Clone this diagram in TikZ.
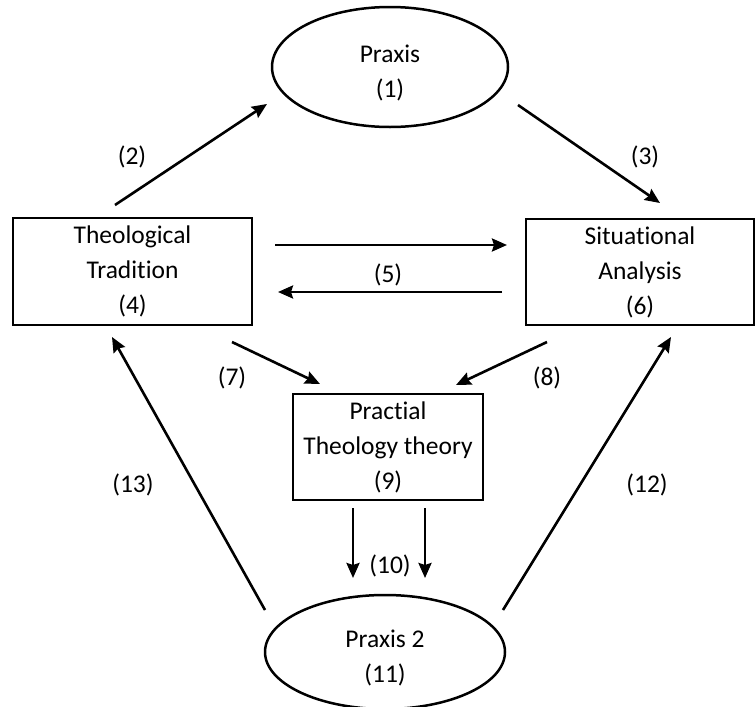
\documentclass[tikz,border=0pt]{standalone}
\usepackage{fontspec}
\setmainfont{Carlito}[Ligatures={NoCommon}]
\usetikzlibrary{arrows.meta,shapes.geometric}
\newcommand{\toppad}{\rule{0pt}{29pt}}
\begin{document}
\begin{tikzpicture}[x=1pt,y=-1pt,
  every node/.style={font=\fontsize{25.5}{35}\selectfont, align=center, text=black},
  stagebox/.style={draw, rectangle, line width=2.8pt, inner sep=0pt},
  cyclenode/.style={draw, ellipse, line width=2.5pt, inner sep=0pt},
  flow/.style={line width=2.6pt, -{Stealth[length=15pt,width=13pt,inset=2pt]}},
  num/.style={inner sep=0pt}]
\useasboundingbox (0,0) rectangle (756,707);

% stages of the cycle
\node[cyclenode, minimum width=236pt, minimum height=120pt] (praxis) at (390,67) {\toppad Praxis\\(1)};
\node[stagebox, minimum width=239pt, minimum height=107pt] (trad) at (132.5,271.5) {Theological\\Tradition\\(4)};
\node[stagebox, minimum width=228pt, minimum height=106pt] (sit) at (640,272) {Situational\\Analysis\\(6)};
\node[stagebox, minimum width=190pt, minimum height=106pt] (ptt) at (388,447) {Practial\\Theology theory\\(9)};
\node[cyclenode, minimum width=240pt, minimum height=114pt] (praxis2) at (385,652) {\toppad Praxis 2\\(11)};

% arrow end points
\coordinate (a2s) at (115,205);  \coordinate (a2e) at (267,104);
\coordinate (a3s) at (518,105);  \coordinate (a3e) at (660,203);
\coordinate (a5s) at (275,245);  \coordinate (a5e) at (507,245);
\coordinate (b5s) at (502,292);  \coordinate (b5e) at (278,292);
\coordinate (a7s) at (232,342);  \coordinate (a7e) at (320,384);
\coordinate (a8s) at (547,342);  \coordinate (a8e) at (456,385);
\coordinate (a10s) at (353,508); \coordinate (a10e) at (353,578);
\coordinate (b10s) at (425,508); \coordinate (b10e) at (425,578);
\coordinate (a13s) at (265,610); \coordinate (a13e) at (112,337);
\coordinate (a12s) at (503,610); \coordinate (a12e) at (671,337);

% connectors
\draw[flow] (a2s) -- (a2e);
\draw[flow] (a3s) -- (a3e);
\draw[flow] (a5s) -- (a5e);
\draw[flow] (b5s) -- (b5e);
\draw[flow] (a7s) -- (a7e);
\draw[flow] (a8s) -- (a8e);
\draw[flow] (a10s) -- (a10e);
\draw[flow] (b10s) -- (b10e);
\draw[flow] (a13s) -- (a13e);
\draw[flow] (a12s) -- (a12e);

% step numbers
\node[num] (n2) at (132,157) {(2)};
\node[num] (n3) at (645,157) {(3)};
\node[num] (n5) at (388,275) {(5)};
\node[num] (n7) at (232,378) {(7)};
\node[num] (n8) at (547,378) {(8)};
\node[num] (n10) at (390,566) {(10)};
\node[num] (n13) at (133,485) {(13)};
\node[num] (n12) at (647,485) {(12)};
\end{tikzpicture}
\end{document}
